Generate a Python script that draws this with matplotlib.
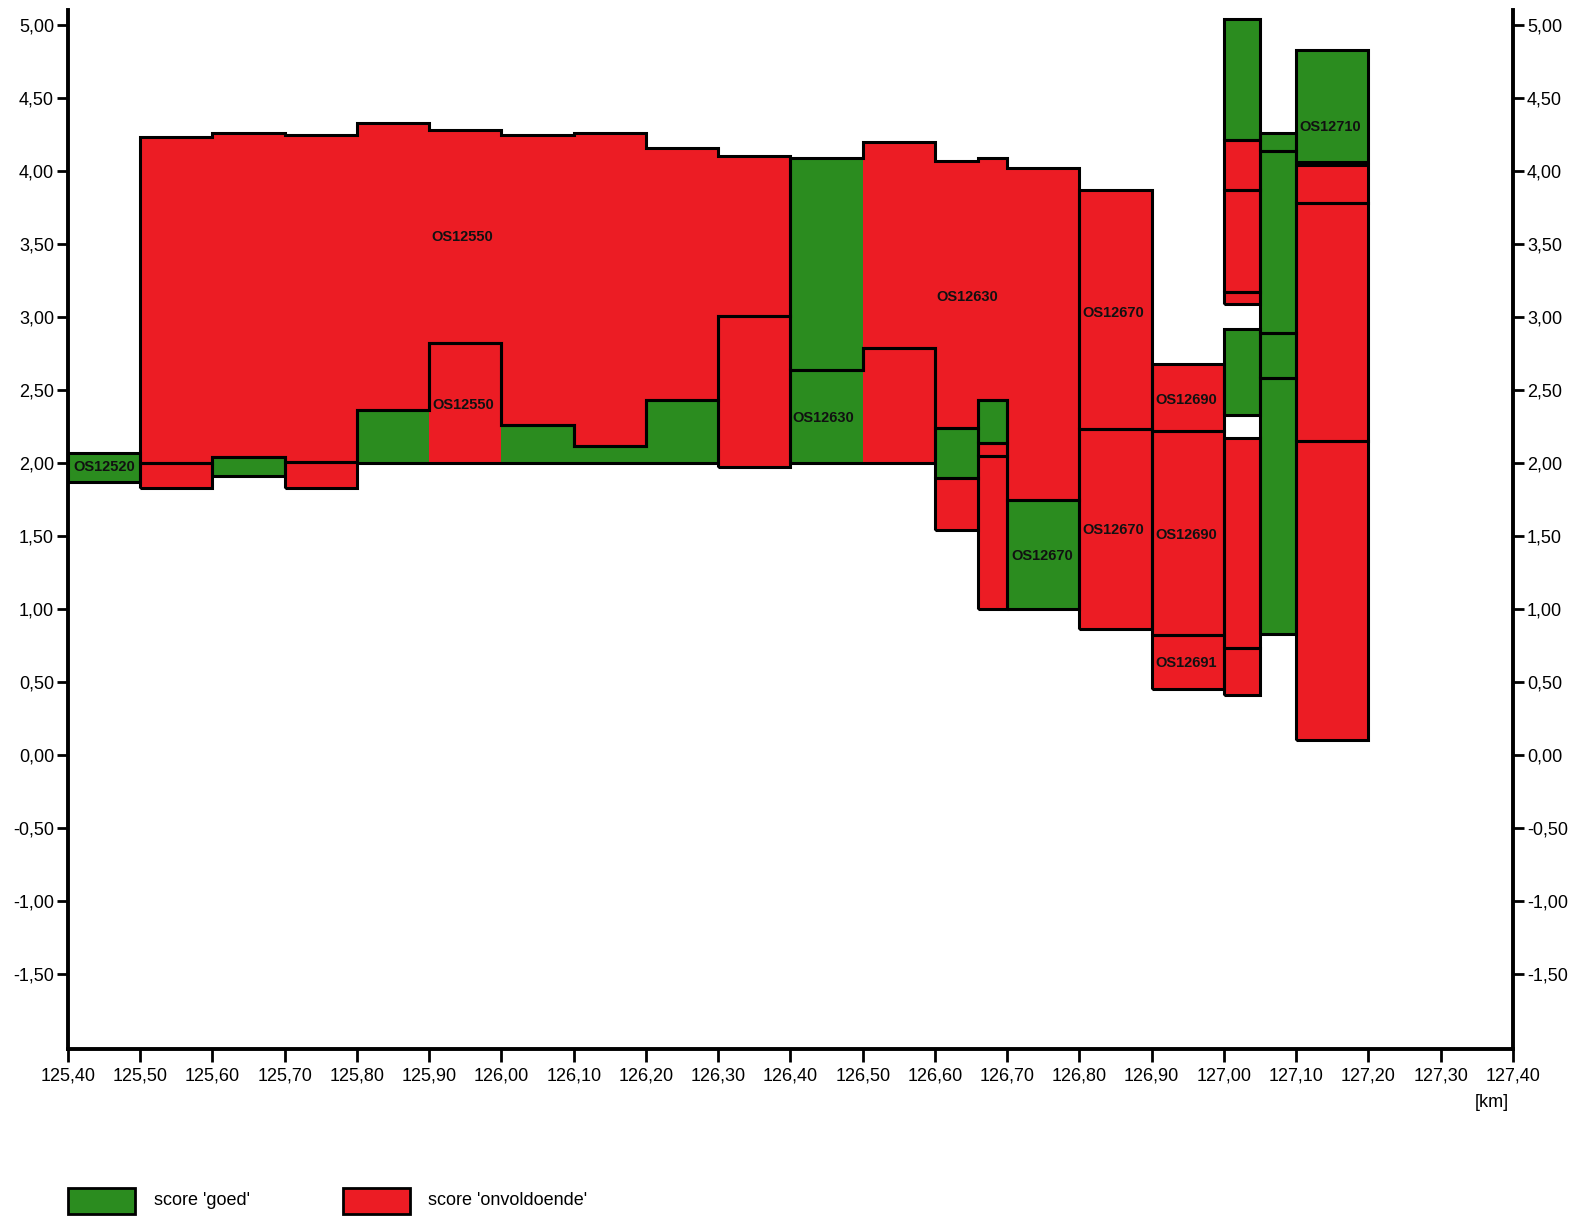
import matplotlib
matplotlib.use('Agg')
import matplotlib.pyplot as plt
from matplotlib.patches import Rectangle
from matplotlib.ticker import FuncFormatter
import numpy as np

plt.rcParams['font.family'] = ['Liberation Sans', 'DejaVu Sans']

GREEN = '#2B8C1F'
RED = '#EC1C24'

# ---- segments (km from, km to, top level, bottom level, score, outline group) ----
seg_x0 = [125.40,
          125.50, 125.60, 125.70, 125.80, 125.90, 126.00, 126.10, 126.20, 126.30,
          125.50, 125.60, 125.70,
          125.80, 125.90, 126.00, 126.10, 126.20,
          126.30,
          126.40, 126.50, 126.60, 126.66, 126.70,
          126.40, 126.50,
          126.60, 126.60, 126.66, 126.66, 126.66, 126.70,
          126.80, 126.80,
          126.90, 126.90, 126.90,
          127.00, 127.00, 127.00, 127.00, 127.00, 127.00, 127.00,
          127.05, 127.05, 127.05, 127.05,
          127.10, 127.10, 127.10, 127.10]
seg_x1 = [125.50,
          125.60, 125.70, 125.80, 125.90, 126.00, 126.10, 126.20, 126.30, 126.40,
          125.60, 125.70, 125.80,
          125.90, 126.00, 126.10, 126.20, 126.30,
          126.40,
          126.50, 126.60, 126.66, 126.70, 126.80,
          126.50, 126.60,
          126.66, 126.66, 126.70, 126.70, 126.70, 126.80,
          126.90, 126.90,
          127.00, 127.00, 127.00,
          127.05, 127.05, 127.05, 127.05, 127.05, 127.05, 127.05,
          127.10, 127.10, 127.10, 127.10,
          127.20, 127.20, 127.20, 127.20]
seg_top = [2.07,
           4.23, 4.26, 4.25, 4.33, 4.28, 4.25, 4.26, 4.16, 4.10,
           2.00, 2.04, 2.01,
           2.36, 2.82, 2.26, 2.12, 2.43,
           3.01,
           4.09, 4.20, 4.07, 4.09, 4.02,
           2.64, 2.79,
           2.24, 1.90, 2.43, 2.14, 2.05, 1.75,
           3.87, 2.23,
           2.68, 2.22, 0.82,
           5.04, 4.21, 3.87, 3.17, 2.92, 2.17, 0.73,
           4.26, 4.14, 2.89, 2.58,
           4.83, 4.04, 3.78, 2.15]
seg_bot = [1.87,
           2.00, 2.04, 2.01, 2.36, 2.82, 2.26, 2.12, 2.43, 3.01,
           1.83, 1.91, 1.83,
           2.00, 2.00, 2.00, 2.00, 2.00,
           1.97,
           2.64, 2.79, 2.24, 2.43, 1.75,
           2.00, 2.00,
           1.90, 1.54, 2.14, 2.05, 1.00, 1.00,
           2.23, 0.86,
           2.22, 0.82, 0.45,
           4.21, 3.87, 3.17, 3.09, 2.33, 0.73, 0.41,
           4.14, 2.89, 2.58, 0.83,
           4.06, 3.78, 2.15, 0.10]
seg_score = ['G',
             'O', 'O', 'O', 'O', 'O', 'O', 'O', 'O', 'O',
             'O', 'G', 'O',
             'G', 'O', 'G', 'G', 'G',
             'O',
             'G', 'O', 'O', 'O', 'O',
             'G', 'O',
             'G', 'O', 'G', 'O', 'O', 'G',
             'O', 'O',
             'O', 'O', 'O',
             'G', 'O', 'O', 'O', 'G', 'O', 'O',
             'G', 'G', 'G', 'G',
             'G', 'O', 'O', 'O']
seg_group = [0,
             1, 1, 1, 1, 1, 1, 1, 1, 1,
             2, 3, 4,
             5, 5, 5, 5, 5,
             6,
             7, 7, 7, 7, 7,
             8, 8,
             9, 10, 11, 12, 13, 14,
             15, 16,
             17, 18, 19,
             20, 21, 22, 23, 24, 25, 26,
             27, 28, 29, 30,
             31, 32, 33, 34]

# ---- section labels ----
label_text = ['OS12520', 'OS12550', 'OS12550', 'OS12630', 'OS12630', 'OS12670',
              'OS12670', 'OS12670', 'OS12690', 'OS12690', 'OS12691', 'OS12710']
label_x = [125.450, 125.945, 125.947, 126.445, 126.645, 126.847,
           126.847, 126.748, 126.948, 126.948, 126.948, 127.147]
label_y = [1.97, 3.55, 2.40, 2.31, 3.14, 3.03,
           1.54, 1.36, 2.43, 1.51, 0.63, 4.30]

# ---- axes ticks ----
xtick_vals = [125.40, 125.50, 125.60, 125.70, 125.80, 125.90, 126.00, 126.10,
              126.20, 126.30, 126.40, 126.50, 126.60, 126.70, 126.80, 126.90,
              127.00, 127.10, 127.20, 127.30, 127.40]
ytick_vals = [-1.50, -1.00, -0.50, 0.00, 0.50, 1.00, 1.50, 2.00, 2.50,
              3.00, 3.50, 4.00, 4.50, 5.00]

fig = plt.figure(figsize=(15.82, 12.30), dpi=100)
ax = fig.add_axes([0.04298, 0.14756, 0.91340, 0.84398])
ax.set_xlim(125.40, 127.40)
ax.set_ylim(-2.01, 5.10)

score_colors = {'G': GREEN, 'O': RED}
for x0, x1, t, b, s in zip(seg_x0, seg_x1, seg_top, seg_bot, seg_score):
    ax.bar(x0, t - b, width=x1 - x0, bottom=b, align='edge',
           color=score_colors[s], linewidth=0, zorder=2)

for gid in sorted(set(seg_group)):
    idx = sorted([i for i, g in enumerate(seg_group) if g == gid], key=lambda i: seg_x0[i])
    edges = [seg_x0[idx[0]]] + [seg_x1[i] for i in idx]
    tops = np.array([seg_top[i] for i in idx])
    bots = np.array([seg_bot[i] for i in idx])
    ax.stairs(tops, edges, baseline=bots, fill=False, edgecolor='black',
              linewidth=2.2, joinstyle='miter', zorder=3)

for t, x, y in zip(label_text, label_x, label_y):
    ax.text(x, y, t, ha='center', va='center', fontsize=10.5, fontweight='bold',
            color='#111111', zorder=4)

for side in ['left', 'right', 'bottom']:
    ax.spines[side].set_linewidth(2.8)
    ax.spines[side].set_color('black')
ax.spines['top'].set_visible(False)

fmt = FuncFormatter(lambda v, p: f"{v:.2f}".replace('.', ','))
ax.set_xticks(xtick_vals)
ax.set_yticks(ytick_vals)
ax.xaxis.set_major_formatter(fmt)
ax.yaxis.set_major_formatter(fmt)
ax.tick_params(axis='y', left=True, right=True, labelleft=True, labelright=True,
               direction='out', length=8, width=2, pad=2, labelsize=13)
ax.tick_params(axis='x', direction='out', length=9, width=2, pad=5, labelsize=13)

fig.text(0.943, 0.1033, '[km]', ha='center', va='center', fontsize=13)

# legend
fig.add_artist(Rectangle((0.043, 0.0130), 0.0424, 0.0211, transform=fig.transFigure,
                         facecolor=GREEN, edgecolor='black', linewidth=2))
fig.text(0.0973, 0.0236, "score 'goed'", ha='left', va='center', fontsize=13)
fig.add_artist(Rectangle((0.2168, 0.0130), 0.0424, 0.0211, transform=fig.transFigure,
                         facecolor=RED, edgecolor='black', linewidth=2))
fig.text(0.2705, 0.0236, "score 'onvoldoende'", ha='left', va='center', fontsize=13)

fig.savefig('out.png', dpi=100, facecolor='white')
